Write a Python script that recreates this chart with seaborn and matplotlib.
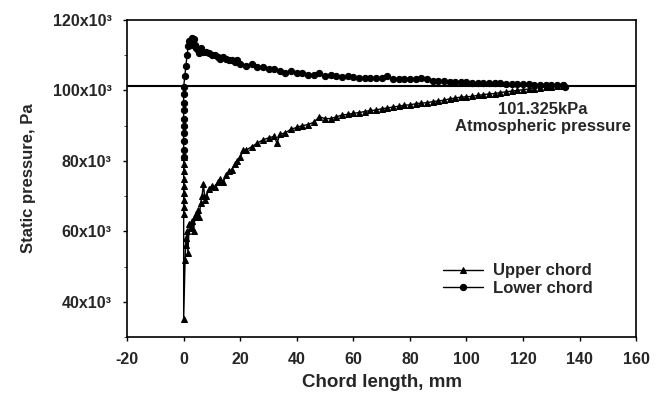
import numpy as np
import pandas as pd
import matplotlib
matplotlib.use("Agg")
import matplotlib.pyplot as plt
import seaborn as sns
from matplotlib.ticker import MultipleLocator, FuncFormatter

# chord length (mm) and static pressure (kPa)
upper_x = [0, 0, 0, 0, 0, 0, 0, 0, 0, 0,
           0.5, 0.8, 1, 1.2, 1.5, 2, 2.5, 3, 3.5, 4,
           4.5, 5, 5.5, 6, 6.5, 7, 7.5, 8, 9, 10,
           11, 12, 13, 14, 15, 16, 17, 18, 19, 20,
           21, 22, 24, 26, 28, 30, 32, 33, 34, 36,
           38, 40, 42, 44, 46, 48, 50, 52, 54, 56,
           58, 60, 62, 64, 66, 68, 70, 72, 74, 76,
           78, 80, 82, 84, 86, 88, 90, 92, 94, 96,
           98, 100, 102, 104, 106, 108, 110, 112, 114, 116,
           118, 120, 122, 124, 126, 128, 130, 132, 134, 135]
upper_p = [81, 79, 77, 75, 73, 71, 69, 67, 65, 35,
           52, 58, 56, 60, 54, 62, 61, 63, 60, 64,
           65, 66, 64, 68, 70, 73.5, 69, 70, 72, 73,
           72.5, 74, 75, 74, 76, 77, 77.5, 79, 80, 81,
           83, 83, 84, 85, 86, 86.5, 87, 85, 87.5, 88,
           89, 89.5, 90, 90.3, 91, 92.5, 92, 92, 92.5, 93,
           93.2, 93.5, 93.7, 94, 94.3, 94.4, 94.8, 95, 95.3, 95.5,
           95.8, 95.9, 96.2, 96.4, 96.5, 96.8, 97, 97.2, 97.6, 97.8,
           98.1, 98.2, 98.3, 98.6, 98.8, 99, 99.1, 99.4, 99.6, 99.8,
           100, 100.2, 100.4, 100.5, 100.8, 101, 101.1, 101.2, 101.3, 101.4]

lower_x = [0, 0, 0, 0, 0, 0, 0, 0, 0, 0,
           0.4, 0.8, 1.2, 1.6, 2, 2.5, 3, 3.5, 4, 4.5,
           5, 5.5, 6, 7, 8, 9, 10, 11, 12, 13,
           14, 15, 16, 17, 18, 19, 20, 22, 24, 26,
           28, 30, 32, 34, 36, 38, 40, 42, 44, 46,
           48, 50, 52, 54, 56, 58, 60, 62, 64, 66,
           68, 70, 72, 74, 76, 78, 80, 82, 84, 86,
           88, 90, 92, 94, 96, 98, 100, 102, 104, 106,
           108, 110, 112, 114, 116, 118, 120, 122, 124, 126,
           128, 130, 132, 134, 135]
lower_p = [81, 83, 85.5, 88, 90, 92, 94.5, 96.5, 99, 101,
           104, 107, 110, 112.5, 114, 113, 115, 114.5, 113, 112,
           111.5, 110.5, 112, 111, 111, 110.5, 110, 110, 109.5, 109,
           109.5, 109, 108.5, 108.5, 108, 108.5, 107.5, 107, 107.5, 106.5,
           106.5, 106, 106, 105.5, 105, 105.5, 105, 105, 104.5, 104.5,
           105, 104, 104.3, 104, 103.8, 104, 103.7, 103.6, 103.5, 103.5,
           103.4, 103.6, 104.2, 103.3, 103.2, 103.2, 103.3, 103.2, 103.5, 103.2,
           102.7, 102.7, 102.6, 102.5, 102.5, 102.4, 102.3, 102.2, 102.2, 102.1,
           102.1, 102, 102, 101.9, 101.8, 101.8, 101.7, 101.7, 101.6, 101.6,
           101.6, 101.5, 101.5, 101.6, 101.0]

atm = 101325

upper = pd.DataFrame({"x": upper_x, "p": np.array(upper_p) * 1000})
lower = pd.DataFrame({"x": lower_x, "p": np.array(lower_p) * 1000})

sns.set_style("ticks")
plt.rcParams['font.family'] = ['Liberation Sans', 'DejaVu Sans']
plt.rcParams['font.weight'] = 'bold'
plt.rcParams['axes.unicode_minus'] = False

fig = plt.figure(figsize=(6.62, 3.98), dpi=100)
ax = fig.add_axes([0.192, 0.153, 0.769, 0.797])

sns.lineplot(data=upper, x="x", y="p", ax=ax, estimator=None, sort=False,
             color="black", lw=1, marker="^", markersize=4.5,
             markeredgecolor="black", label="Upper chord")
sns.lineplot(data=lower, x="x", y="p", ax=ax, estimator=None, sort=False,
             color="black", lw=1, marker="o", markersize=4.5,
             markeredgecolor="black", label="Lower chord")
ax.axhline(atm, color="black", lw=1.5)

ax.set_xlim(-20, 160)
ax.set_ylim(30000, 120000)
ax.xaxis.set_major_locator(MultipleLocator(20))
ax.yaxis.set_major_locator(MultipleLocator(20000))
ax.yaxis.set_minor_locator(MultipleLocator(10000))
ax.yaxis.set_major_formatter(FuncFormatter(lambda v, pos: f"{int(v/1000)}x10\u00b3"))
ax.tick_params(axis="both", labelsize=11.5, width=1, length=3, color="black")
ax.tick_params(axis="y", pad=8)
ax.tick_params(axis="x", pad=8)
ax.tick_params(axis="y", which="minor", length=2)
for lab in ax.get_xticklabels() + ax.get_yticklabels():
    lab.set_fontweight("bold")
for s in ax.spines.values():
    s.set_linewidth(1.2)
    s.set_color("black")

ax.set_xlabel("Chord length, mm", fontsize=13.5, fontweight="bold", labelpad=5)
ax.set_ylabel("Static pressure, Pa", fontsize=12, fontweight="bold", labelpad=12)

ax.text(127, 96800, "101.325kPa\nAtmospheric pressure", ha="center", va="top",
        fontsize=12, fontweight="bold", linespacing=1.2)

ax.legend(frameon=False, loc="center left", bbox_to_anchor=(0.621, 0.181),
          borderpad=0, borderaxespad=0, prop={"size": 12, "weight": "bold"},
          handlelength=2.4, handletextpad=0.6, labelspacing=0.15)

fig.savefig("out.png", dpi=100)
